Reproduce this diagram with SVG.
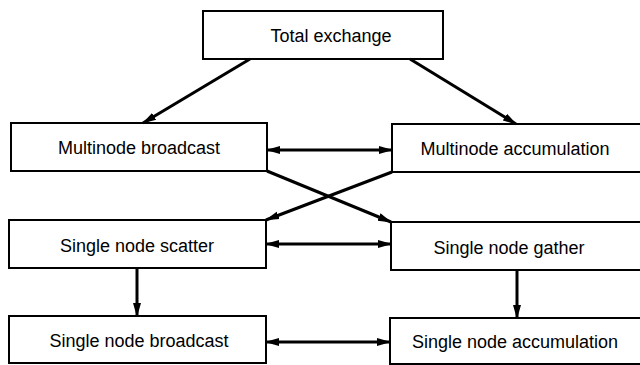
<svg xmlns="http://www.w3.org/2000/svg" width="640" height="365" viewBox="0 0 640 365">
<style>
.box{fill:#fff;stroke:#000;stroke-width:2}
.lbl{font-family:"Liberation Sans",Arial,sans-serif;font-size:18px;fill:#000;text-anchor:middle}
.con{stroke:#000;stroke-width:3;fill:none}
</style>
<defs>
<marker id="ah" markerUnits="userSpaceOnUse" markerWidth="14" markerHeight="10" refX="13" refY="4" orient="auto-start-reverse" viewBox="0 0 14 8">
<path d="M0,0 L14,4 L0,8 z" fill="#000"/>
</marker>
</defs>
<rect width="640" height="365" fill="#fff"/>
<g id="total-exchange"><rect class="box" x="203" y="11" width="240" height="48"/><text class="lbl" x="331" y="42">Total exchange</text></g>
<g id="multinode-broadcast"><rect class="box" x="11" y="123" width="256" height="48"/><text class="lbl" x="139" y="154">Multinode broadcast</text></g>
<g id="multinode-accumulation"><rect class="box" x="392" y="124" width="260" height="48"/><text class="lbl" x="515" y="155">Multinode accumulation</text></g>
<g id="single-node-scatter"><rect class="box" x="9" y="220" width="257" height="48"/><text class="lbl" x="137" y="252">Single node scatter</text></g>
<g id="single-node-gather"><rect class="box" x="391" y="222" width="260" height="48"/><text class="lbl" x="509" y="254">Single node gather</text></g>
<g id="single-node-broadcast"><rect class="box" x="9" y="316" width="257" height="47"/><text class="lbl" x="139" y="347">Single node broadcast</text></g>
<g id="single-node-accumulation"><rect class="box" x="390" y="318" width="262" height="46"/><text class="lbl" x="515" y="348">Single node accumulation</text></g>
<g id="connectors">
<line class="con" x1="250" y1="59" x2="143" y2="123" marker-end="url(#ah)"/>
<line class="con" x1="410" y1="59" x2="516" y2="124" marker-end="url(#ah)"/>
<line class="con" x1="267" y1="150" x2="392" y2="150" marker-start="url(#ah)" marker-end="url(#ah)"/>
<line class="con" x1="267" y1="171" x2="391" y2="222" marker-end="url(#ah)"/>
<line class="con" x1="392" y1="172" x2="266" y2="220" marker-end="url(#ah)"/>
<line class="con" x1="266" y1="244" x2="391" y2="244" marker-start="url(#ah)" marker-end="url(#ah)"/>
<line class="con" x1="137" y1="268" x2="137" y2="316" marker-end="url(#ah)"/>
<line class="con" x1="517" y1="270" x2="517" y2="318" marker-end="url(#ah)"/>
<line class="con" x1="266" y1="342" x2="390" y2="342" marker-start="url(#ah)" marker-end="url(#ah)"/>
</g>
</svg>
